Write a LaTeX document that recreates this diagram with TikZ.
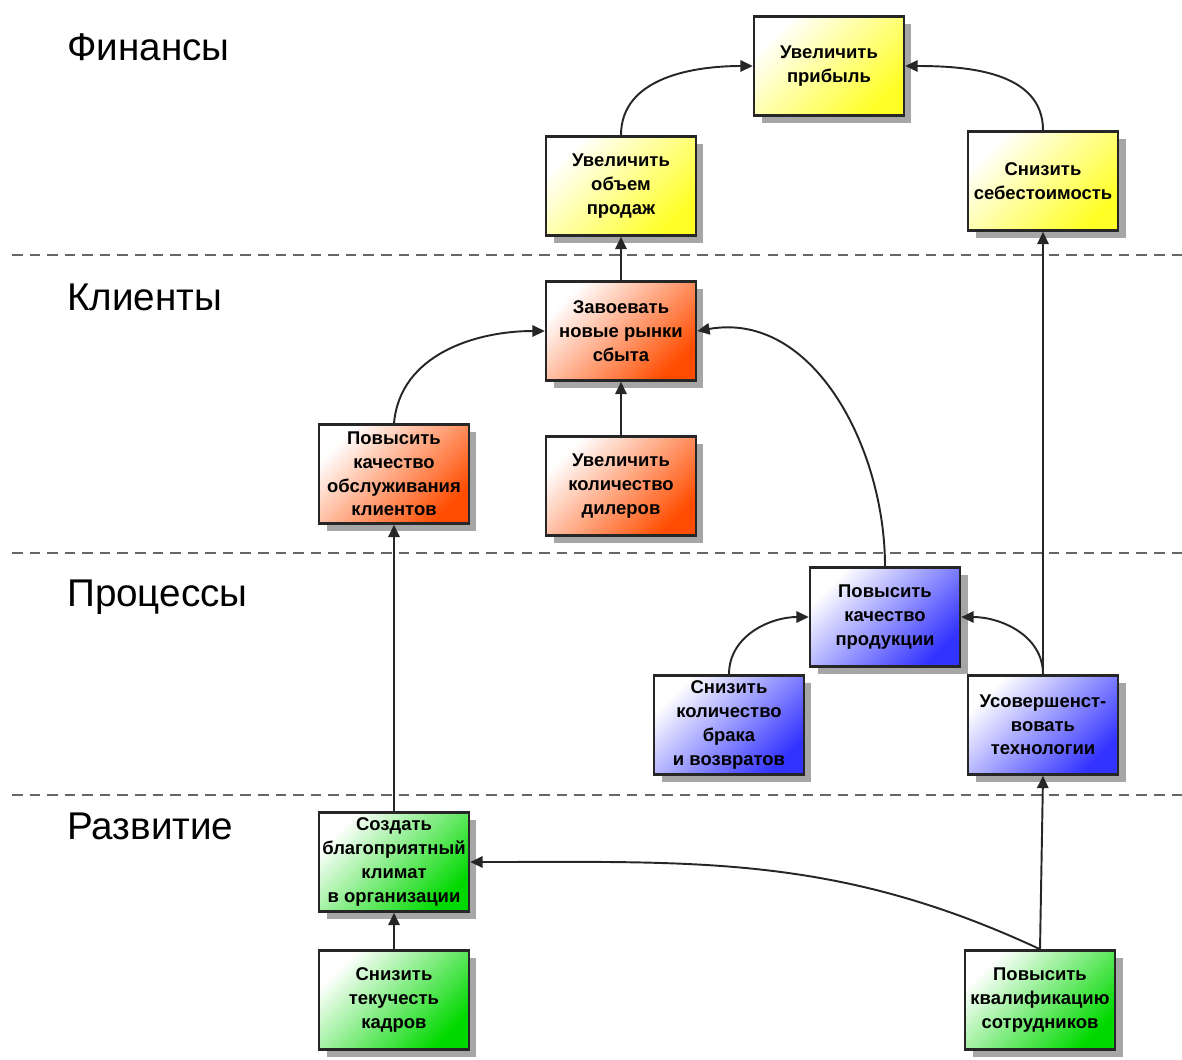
\documentclass[tikz,border=0pt]{standalone}
\usepackage{fontspec}
\setmainfont{Liberation Sans}
\usepackage{tikz}
\usetikzlibrary{arrows.meta, shadows}

\begin{document}
\begin{tikzpicture}[
        x=0.02cm, y=-0.02cm,
        goal/.style={rectangle, draw=black!85, line width=1.5pt,
        minimum width=3.0cm, minimum height=1.98cm, align=center,
        font=\fontsize{10.5}{13.5}\selectfont\bfseries, inner sep=1pt,
        drop shadow={shadow xshift=0.15cm, shadow yshift=-0.15cm,
        fill=black!35, opacity=1}},
        fin/.style={goal, top color=white, middle color=yellow!30,
        bottom color=yellow!85, shading angle=45},
        cli/.style={goal, top color=white, middle color=red!30!orange!40,
        bottom color=red!40!orange, shading angle=45},
        proc/.style={goal, top color=white, middle color=blue!30,
        bottom color=blue!80, shading angle=45},
        dev/.style={goal, top color=white, middle color=green!30,
        bottom color=green!85!black, shading angle=45},
        layer/.style={anchor=west, font=\fontsize{22}{26}\selectfont},
        border/.style={draw=black!60, line width=1.4pt,
        dash pattern=on 6pt off 4pt},
        link/.style={draw=black!85, line width=1.1pt,
        -{Triangle[length=7pt,width=6.5pt]}},
      ]

      \useasboundingbox (0,0) rectangle (1182,1059);

      \coordinate (b1l) at (12,255);   \coordinate (b1r) at (1182,255);
      \coordinate (b2l) at (12,553);   \coordinate (b2r) at (1182,553);
      \coordinate (b3l) at (12,795);   \coordinate (b3r) at (1182,795);
      \draw[border] (b1l) -- (b1r);
      \draw[border] (b2l) -- (b2r);
      \draw[border] (b3l) -- (b3r);

      \node[layer] (lfin)  at (61,47)  {Финансы};
      \node[layer] (lcli)  at (61,297) {Клиенты};
      \node[layer] (lproc) at (61,597) {Процессы};
      \node[layer] (ldev)  at (61,826) {Развитие};

      \node[fin] (profit) at (829,66)  {Увеличить\\прибыль};
      \node[fin] (sales)  at (621,186) {Увеличить\\объем\\продаж};
      \node[fin] (cost)   at (1043,181) {Снизить\\себестоимость};

      \node[cli] (markets) at (621,331) {Завоевать\\новые рынки\\сбыта};
      \node[cli] (service) at (394,474) {Повысить\\качество\\обслуживания\\клиентов};
      \node[cli] (dealers) at (621,486) {Увеличить\\количество\\дилеров};

      \node[proc] (quality) at (885,617) {Повысить\\качество\\продукции};
      \node[proc] (defects) at (729,725) {Снизить\\количество\\брака\\и возвратов};
      \node[proc] (tech)    at (1043,725) {Усовершенст-\\вовать\\технологии};

      \node[dev] (climate)  at (394,862) {Создать\\благоприятный\\климат\\в организации};
      \node[dev] (turnover) at (394,1000) {Снизить\\текучесть\\кадров};
      \node[dev] (skills)   at (1040,1000) {Повысить\\квалификацию\\сотрудников};

      \draw[link] (sales.north) to[out=90, in=180] (profit.west);
      \draw[link] (cost.north) to[out=90, in=0] (profit.east);
      \draw[link] (markets.north) -- (sales.south);
      \draw[link] (service.north) to[out=85, in=180] (markets.west);
      \draw[link] (dealers.north) -- (markets.south);
      \draw[link] (quality.north) to[out=90, in=10] (markets.east);
      \draw[link] (defects.north) to[out=90, in=180] (quality.west);
      \draw[link] (tech.north) to[out=90, in=0] (quality.east);
      \draw[link] (tech.north) -- (cost.south);
      \draw[link] (climate.north) -- (service.south);
      \draw[link] (turnover.north) -- (climate.south);
      \draw[link] (skills.north) -- (tech.south);
      \draw[link] (skills.north) to[out=155, in=0] (climate.east);

    \end{tikzpicture}
\end{document}
